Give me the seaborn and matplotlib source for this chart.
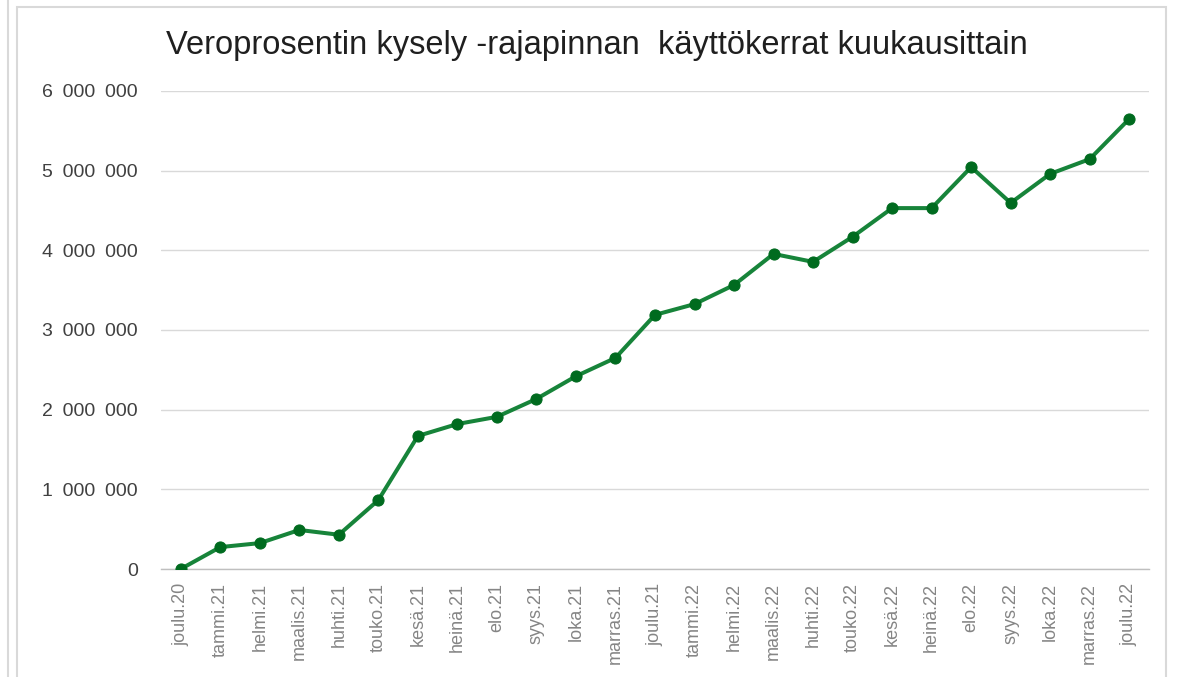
import numpy as np
import pandas as pd
import matplotlib
matplotlib.use("Agg")
import matplotlib.pyplot as plt
import matplotlib.ticker as mticker
from matplotlib.patches import Rectangle
from matplotlib.lines import Line2D
import seaborn as sns

# data
months = ["joulu.20", "tammi.21", "helmi.21", "maalis.21", "huhti.21", "touko.21",
          "kesä.21", "heinä.21", "elo.21", "syys.21", "loka.21", "marras.21",
          "joulu.21", "tammi.22", "helmi.22", "maalis.22", "huhti.22", "touko.22",
          "kesä.22", "heinä.22", "elo.22", "syys.22", "loka.22", "marras.22", "joulu.22"]
calls = [0, 275000, 325000, 490000, 430000, 865000,
         1670000, 1820000, 1910000, 2135000, 2420000, 2650000,
         3190000, 3325000, 3565000, 3955000, 3855000, 4170000,
         4530000, 4530000, 5045000, 4595000, 4960000, 5145000, 5650000]
y_ticks = [0, 1000000, 2000000, 3000000, 4000000, 5000000, 6000000]
title = "Veroprosentin kysely -rajapinnan  käyttökerrat kuukausittain"

df = pd.DataFrame({"month": months, "calls": calls})

sns.set_style("white")
plt.rcParams["font.family"] = ["Liberation Sans", "DejaVu Sans"]

fig = plt.figure(figsize=(11.81, 6.77), dpi=100)
ax = fig.add_axes([161 / 1181, 1 - 569 / 677, (1149 - 161) / 1181, (569 - 91) / 677])

sns.lineplot(data=df, x="month", y="calls", sort=False, ax=ax,
             color="#17843a", linewidth=2.9, marker="o", markersize=8,
             markerfacecolor="#006b1f", markeredgecolor="#006b1f", zorder=3)

ax.set_xlim(-0.5, len(months) - 0.5)
ax.set_ylim(0, 6000000)
ax.set_yticks(y_ticks)
# thousands separated by an en space, as in the spreadsheet
ax.yaxis.set_major_formatter(mticker.FuncFormatter(lambda v, p: f"{int(v):,}".replace(",", "\u2002")))
ax.grid(axis="y", color="#d9d9d9", linewidth=1)
ax.set_axisbelow(True)
ax.set_xlabel("")
ax.set_ylabel("")

for s in ["left", "right", "top"]:
    ax.spines[s].set_visible(False)
ax.spines["bottom"].set_color("#bfbfbf")
ax.spines["bottom"].set_linewidth(1)

ax.tick_params(axis="y", length=0, pad=16.5, labelsize=14, labelcolor="#404040")
ax.tick_params(axis="x", which="major", length=0, pad=10, labelsize=13,
               labelcolor="#858585", rotation=90)
ax.set_xticks(np.arange(-0.5, len(months)), minor=True)
ax.tick_params(axis="x", which="minor", length=6, color="#bfbfbf", width=1)
for lbl in ax.get_xticklabels():
    lbl.set_va("top")

fig.text(0.505, 0.933, title, ha="center", va="center", fontsize=23.5, color="#1f1f1f")

# chart frame like the spreadsheet chart box
fig.patches.append(Rectangle((17 / 1181, -0.01), (1166 - 17) / 1181, 1 - 7 / 677 + 0.01,
                             transform=fig.transFigure, fill=False,
                             edgecolor="#d9d9d9", linewidth=1.5))
fig.lines.append(Line2D([8 / 1181, 8 / 1181], [0, 1], transform=fig.transFigure,
                        color="#d9d9d9", linewidth=1.5))

fig.savefig("out.png", dpi=100)
